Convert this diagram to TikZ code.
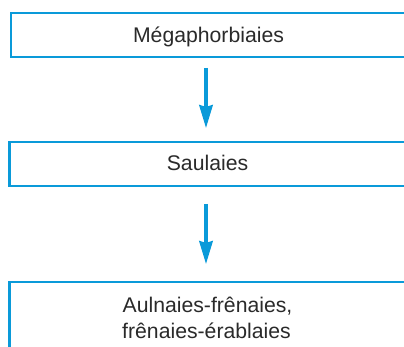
\documentclass[tikz,border=0pt]{standalone}
\usepackage{fontspec}
\setmainfont{Liberation Sans}
\usetikzlibrary{arrows.meta}
\definecolor{boxblue}{HTML}{0A9AD9}
\definecolor{txtgray}{HTML}{2A2A2A}
\begin{document}
\begin{tikzpicture}[x=1pt,y=-1pt,
  stagebox/.style={draw=boxblue, line width=2.6pt, fill=white, inner sep=0pt, outer sep=0pt, anchor=north west},
  stagetext/.style={text=txtgray, font=\fontsize{21.2}{26}\selectfont, anchor=base, inner sep=0pt},
  flowarrow/.style={draw=boxblue, line width=3.2pt,
    -{Stealth[width=13.5pt,length=23pt,inset=2pt]}}]
\useasboundingbox (0,0) rectangle (404,347);
\node[stagebox, minimum width=396pt, minimum height=44pt] (b1) at (11,13) {};
\node[stagetext] (t1) at (208.5,43) {Mégaphorbiaies};
\node[stagebox, minimum width=397.5pt, minimum height=44pt] (b2) at (9.5,142) {};
\node[stagetext] (t2) at (207.5,171) {Saulaies};
\node[stagebox, minimum width=397.5pt, minimum height=90pt] (b3) at (9.5,282) {};
\node[stagetext] (t3a) at (207.5,312) {Aulnaies-frênaies,};
\node[stagetext] (t3b) at (206.5,338) {frênaies-érablaies};
\draw[flowarrow, shorten <=11pt, shorten >=14pt] ([xshift=-3pt]b1.south) -- ([xshift=-2.25pt]b2.north);
\draw[flowarrow, shorten <=18pt, shorten >=18pt] ([xshift=-2.25pt]b2.south) -- ([xshift=-2.25pt]b3.north);
\end{tikzpicture}
\end{document}
